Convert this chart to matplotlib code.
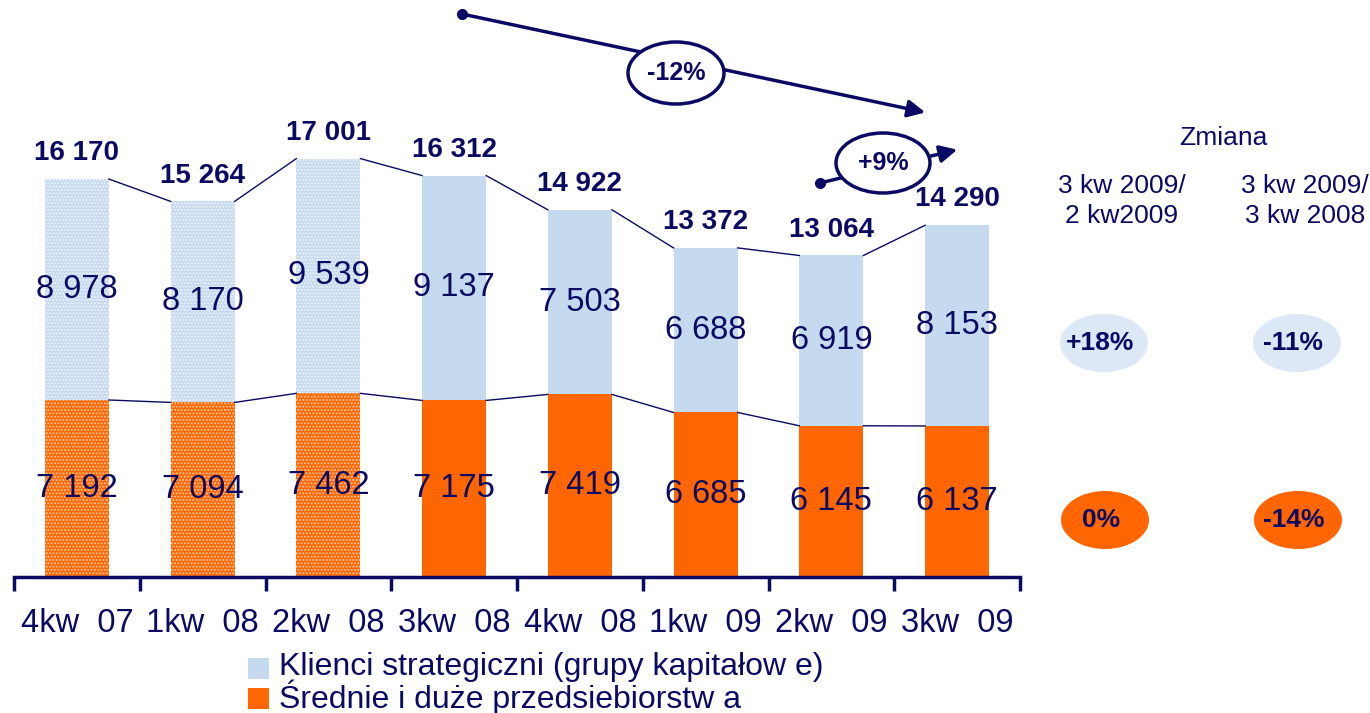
import matplotlib.pyplot as plt
import numpy as np
from matplotlib.patches import Ellipse, Rectangle, FancyArrowPatch
from matplotlib.lines import Line2D

# dane
kwartaly = ['4kw  07', '1kw  08', '2kw  08', '3kw  08', '4kw  08', '1kw  09', '2kw  09', '3kw  09']
strategiczni = [8978, 8170, 9539, 9137, 7503, 6688, 6919, 8153]
srednie = [7192, 7094, 7462, 7175, 7419, 6685, 6145, 6137]
razem = [16170, 15264, 17001, 16312, 14922, 13372, 13064, 14290]
zmiana_kolumny = ['3 kw 2009/\n2 kw2009', '3 kw 2009/\n3 kw 2008']
zmiana_strateg = ['+18%', '-11%']
zmiana_srednie = ['0%', '-14%']
trend_labels = ['-12%', '+9%']
legenda = ['Klienci strategiczni (grupy kapitałow e)', 'Średnie i duże przedsiebiorstw a']

NAVY = '#0a0a64'
BLUE = '#c5daee'
ORANGE = '#ff6600'
LIGHT_ELL = '#dce8f5'
plt.rcParams['font.family'] = ['Liberation Sans', 'DejaVu Sans']
plt.rcParams['hatch.linewidth'] = 1.0

W, H = 1370, 713
fig = plt.figure(figsize=(W / 100, H / 100), dpi=100)


def px(x, y):
    return (x / W, 1 - y / H)


ax = fig.add_axes([14 / W, (H - 577) / H, (1020 - 14) / W, 577 / H])
x = np.arange(len(kwartaly))
bw = 0.51
ymax = 577 / 0.02461

for i in range(len(x)):
    hatch = '.....' if i < 3 else None
    ax.bar(x[i], srednie[i], bw, color=ORANGE, edgecolor='#ffc8a0' if hatch else ORANGE,
           linewidth=0, hatch=hatch)
    ax.bar(x[i], strategiczni[i], bw, bottom=srednie[i], color=BLUE,
           edgecolor='#eef4fb' if hatch else BLUE, linewidth=0, hatch=hatch)

# linie łączące
for i in range(len(x) - 1):
    ax.plot([x[i] + bw / 2, x[i + 1] - bw / 2], [razem[i], razem[i + 1]], color=NAVY, lw=1)
    ax.plot([x[i] + bw / 2, x[i + 1] - bw / 2], [srednie[i], srednie[i + 1]], color=NAVY, lw=1)

def fmt(v):
    return f'{v:,}'.replace(',', ' ')

for i in range(len(x)):
    ax.text(x[i], razem[i] + 1050, fmt(razem[i]), ha='center', va='center',
            fontsize=20, fontweight='bold', color=NAVY)
    ax.text(x[i], srednie[i] + strategiczni[i] / 2, fmt(strategiczni[i]), ha='center',
            va='center', fontsize=23.5, color=NAVY)
    ax.text(x[i], srednie[i] / 2, fmt(srednie[i]), ha='center', va='center',
            fontsize=23.5, color=NAVY)

ax.set_xlim(-0.5, 7.5)
ax.set_ylim(0, ymax)
for s in ['top', 'right', 'left']:
    ax.spines[s].set_visible(False)
ax.spines['bottom'].set_color(NAVY)
ax.spines['bottom'].set_linewidth(2.5)
ax.set_yticks([])
ax.set_xticks(x)
ax.set_xticklabels(kwartaly, fontsize=23.5, color=NAVY)
ax.tick_params(axis='x', which='major', length=0, pad=22)
ax.set_xticks(np.arange(-0.5, 8, 1), minor=True)
ax.tick_params(axis='x', which='minor', length=10, width=2.5, color=NAVY, direction='out')
ax.patch.set_alpha(0)


def trend(p0, p1, centre, size, label):
    a = FancyArrowPatch(px(*p0), px(*p1), transform=fig.transFigure, arrowstyle='-|>',
                        mutation_scale=26, lw=2.5, color=NAVY)
    fig.add_artist(a)
    fig.add_artist(Line2D([px(*p0)[0]], [px(*p0)[1]], marker='o', markersize=7,
                          color=NAVY, transform=fig.transFigure))
    e = Ellipse(px(*centre), size[0] / W, size[1] / H, transform=fig.transFigure,
                facecolor='white', edgecolor=NAVY, lw=2.5, zorder=5)
    fig.add_artist(e)
    fig.text(*px(*centre), label, ha='center', va='center', fontsize=18,
             fontweight='bold', color=NAVY, zorder=6)


trend((462, 14), (928, 113), (676, 73), (96, 62), trend_labels[0])
trend((820, 183), (960, 149), (883, 163), (94, 60), trend_labels[1])

# panel zmian
fig.text(*px(1223, 138), 'Zmiana', ha='center', va='center', fontsize=19, color=NAVY)
for j, (cx, lab) in enumerate(zip([1122, 1305], zmiana_kolumny)):
    fig.text(*px(cx, 201), lab, ha='center', va='center', fontsize=19, color=NAVY,
             linespacing=1.35)
for j, cx in enumerate([1104, 1297]):
    fig.add_artist(Ellipse(px(cx, 343), 88 / W, 58 / H, transform=fig.transFigure,
                           facecolor=LIGHT_ELL, edgecolor='none'))
    fig.text(*px(cx - 4, 343), zmiana_strateg[j], ha='center', va='center', fontsize=19,
             fontweight='bold', color=NAVY)
    fig.add_artist(Ellipse(px(cx + 1, 520), 88 / W, 58 / H, transform=fig.transFigure,
                           facecolor=ORANGE, edgecolor='none'))
    fig.text(*px(cx - 3, 520), zmiana_srednie[j], ha='center', va='center', fontsize=19,
             fontweight='bold', color=NAVY)

# legenda
for k, (col, lab) in enumerate(zip([BLUE, ORANGE], legenda)):
    yc = 667 + k * 30
    fig.add_artist(Rectangle(px(248, yc + 12), 21 / W, 21 / H, transform=fig.transFigure,
                             facecolor=col, edgecolor='none'))
    fig.text(*px(279, yc), lab, ha='left', va='center', fontsize=23, color=NAVY)

fig.savefig('out.png', dpi=100)
